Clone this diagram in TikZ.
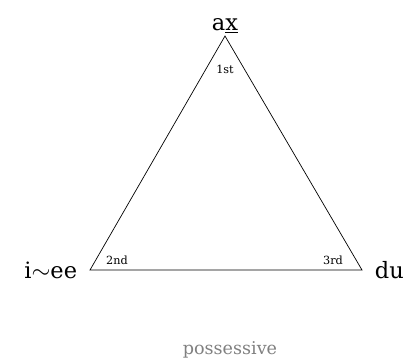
\documentclass[tikz,border=0pt]{standalone}
\usepackage{fontspec}
\setmainfont{DejaVu Serif}
\usetikzlibrary{positioning, calc}
\begin{document}
\begin{tikzpicture}[x=0.025cm, y=-0.025cm,
    vertice/.style={font=\fontsize{16}{18}\selectfont, inner sep=2pt},
    persona/.style={font=\fontsize{8}{9}\selectfont},
    titolo/.style={font=\fontsize{12.5}{14}\selectfont, text=gray}]
    %cornice
    \useasboundingbox (0,0) rectangle (404,364);
    %vertici
    \coordinate (A) at (225,36);
    \coordinate (B) at (90,270);
    \coordinate (C) at (362,270);
    %disegno triangolo
    \draw[line width=0.5pt] (A)--(B)--(C)--cycle;
    %label vertici
    \node[vertice, anchor=south] (ax) at (A) {a\underline{x}};
    \node[vertice, anchor=east, xshift=-7pt] (iee) at (B) {i$\sim$ee};
    \node[vertice, anchor=west, xshift=7pt] (du) at (C) {du};
    %persone
    \node[persona] (uno) at (225,69) {1st};
    \node[persona] (due) at (117,260) {2nd};
    \node[persona] (tre) at (333,260) {3rd};
    %titolo
    \node[titolo] (poss) at (230,350) {possessive};
\end{tikzpicture}
\end{document}
